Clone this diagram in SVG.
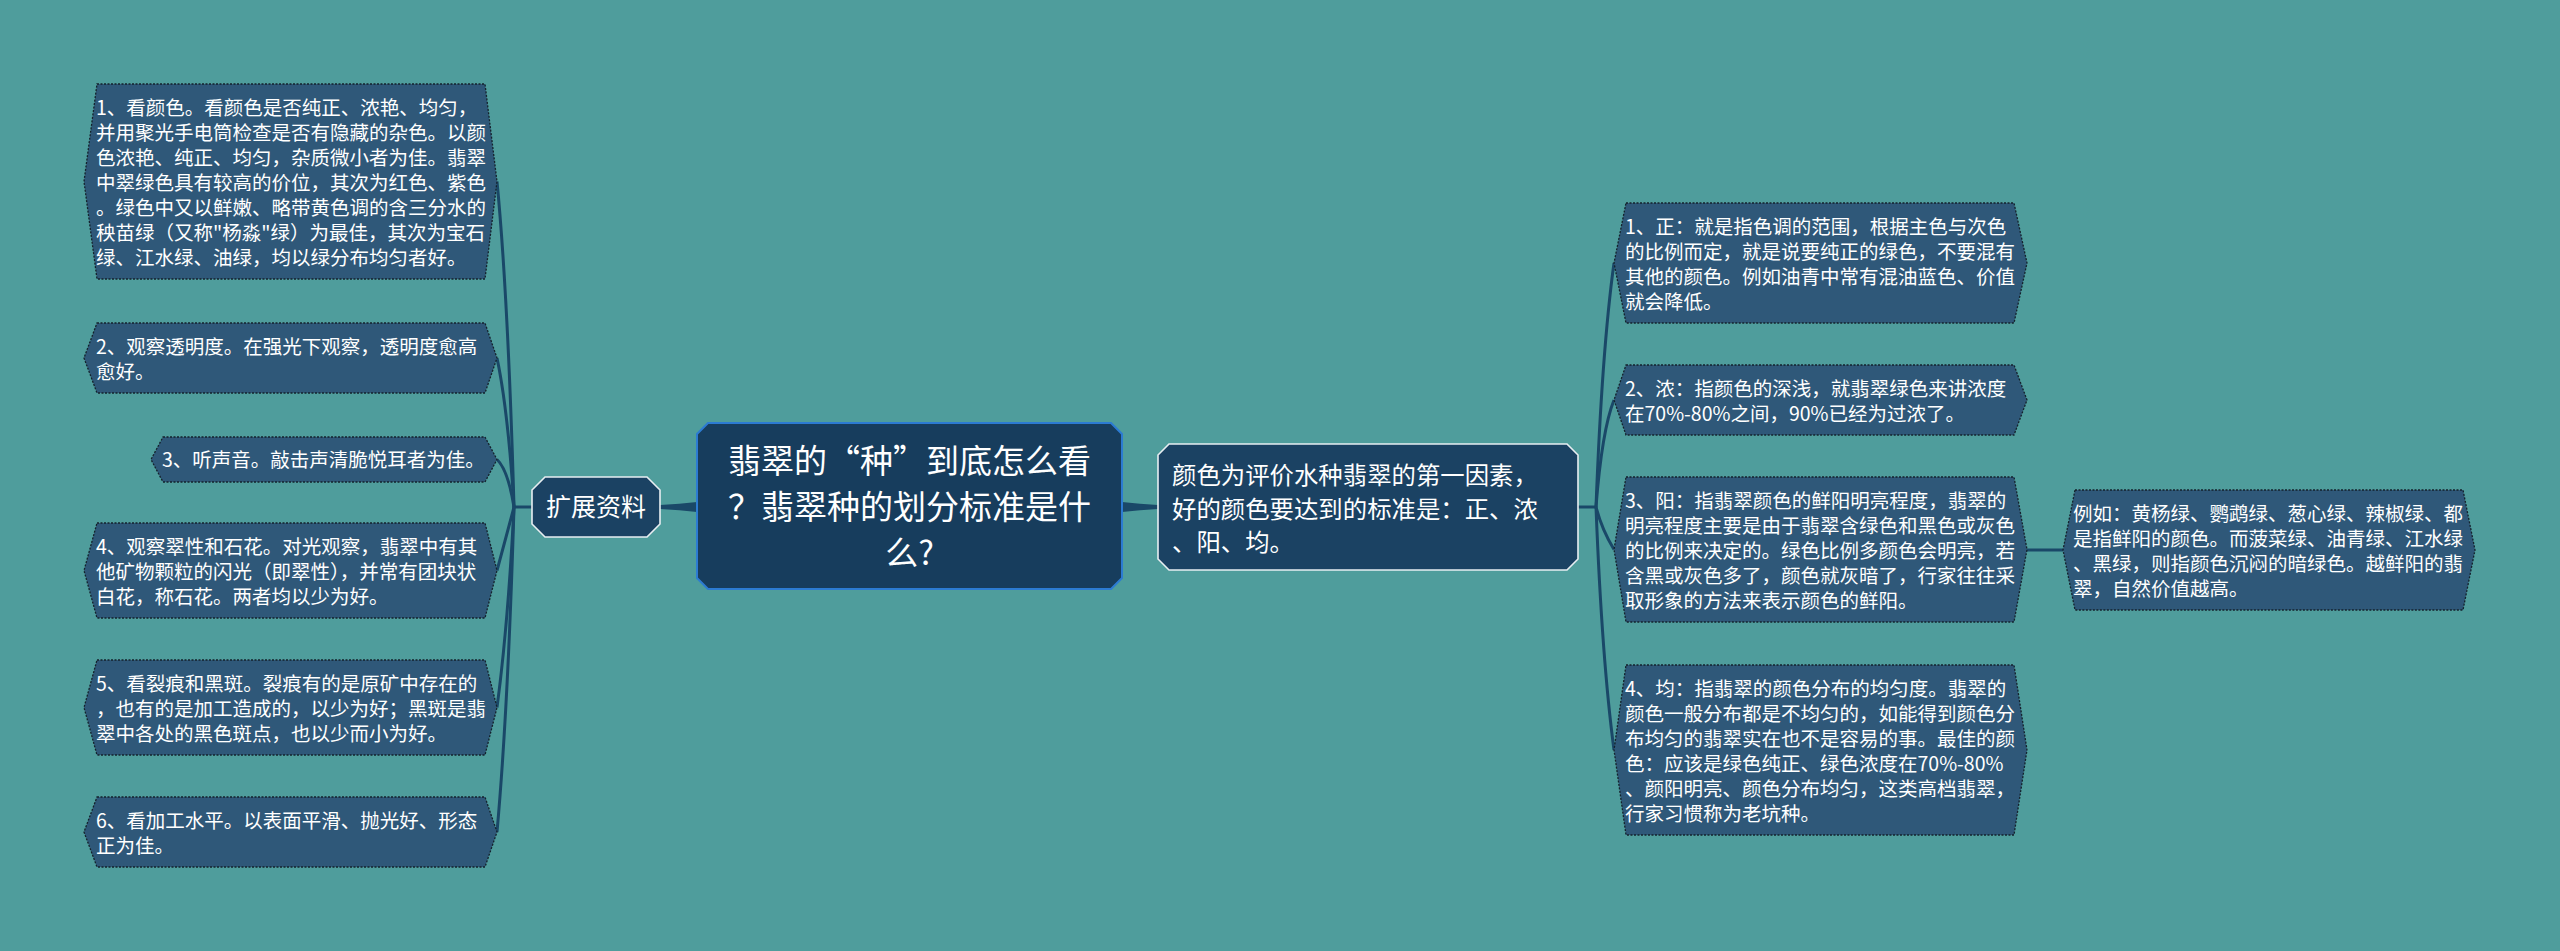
<svg xmlns="http://www.w3.org/2000/svg" width="2560" height="951" viewBox="0 0 2560 951">
<style>
.leaf{fill:#2f5879;stroke:#15222c;stroke-width:1.3;stroke-dasharray:2 1.5}
.lt{font-family:"Noto Sans CJK SC","Noto Sans",sans-serif;font-size:19.5px;fill:#ffffff}
.ct{font-family:"Noto Sans CJK SC","Noto Sans",sans-serif;font-size:33px;fill:#ffffff;text-anchor:middle}
.st{font-family:"Noto Sans CJK SC","Noto Sans",sans-serif;font-size:24.4px;fill:#ffffff}
.sub{fill:#1b4263;stroke:#e8eef2;stroke-width:1.6}
.con{fill:none;stroke:#1a4868;stroke-width:3}
.taper{fill:#1a4868}
</style>
<rect width="2560" height="951" fill="#4f9d9c"/>
<g id="connectors">
<path class="taper" d="M697,502 Q680,504 660,505 L660,509 Q680,510 697,512 Z"/>
<path class="taper" d="M1122,502 Q1140,504 1158,505 L1158,509 Q1140,510 1122,512 Z"/>
<path class="con" stroke-width="2.5" d="M532,507 L514,507"/>
<path class="con" d="M514,507 Q508,295 497,181.5"/>
<path class="con" d="M514,507 Q508,410 497,358"/>
<path class="con" d="M514,507 Q508,470 497,459.5"/>
<path class="con" d="M514,507 Q508,530 497,570.5"/>
<path class="con" d="M514,507 Q508,625 497,707.5"/>
<path class="con" d="M514,507 Q508,710 497,832"/>
<path class="con" stroke-width="2.5" d="M1578,507 L1596,507"/>
<path class="con" d="M1596,507 Q1602,350 1614,263"/>
<path class="con" d="M1596,507 Q1602,430 1614,400"/>
<path class="con" d="M1596,507 Q1602,530 1614,549.5"/>
<path class="con" d="M1596,507 Q1602,660 1614,750"/>
<path class="con" d="M2027,550 L2063,550"/>
</g>
<g id="center">
<path d="M708,423 L1111,423 L1122,434 L1122,578 L1111,589 L708,589 L697,578 L697,434 Z" fill="#173d5d" stroke="#2c7bd2" stroke-width="2"/>
<text class="ct" x="909.5" y="473">翡翠的“种”到底怎么看</text>
<text class="ct" x="909.5" y="519">？翡翠种的划分标准是什</text>
<text class="ct" x="909.5" y="565">么?</text>
</g>
<g id="ext">
<path class="sub" d="M545,477 L647,477 L660,490 L660,524 L647,537 L545,537 L532,524 L532,490 Z"/>
<text x="596" y="516" font-family="Noto Sans CJK SC, sans-serif" font-size="25" fill="#fff" text-anchor="middle">扩展资料</text>
</g>
<g id="color-main">
<path class="sub" d="M1169,444 L1567,444 L1578,455 L1578,559 L1567,570 L1169,570 L1158,559 L1158,455 Z"/>
<text class="st" x="1172" y="484">颜色为评价水种翡翠的第一因素，</text>
<text class="st" x="1172" y="517.5">好的颜色要达到的标准是：正、浓</text>
<text class="st" x="1172" y="551">、阳、均。</text>
</g>
<g id="n1">
<path class="leaf" d="M97,84 L485,84 L497,181.5 L485,279 L97,279 L84,181.5 Z"/>
<text class="lt" x="96" y="115">1、看颜色。看颜色是否纯正、浓艳、均匀，</text>
<text class="lt" x="96" y="140">并用聚光手电筒检查是否有隐藏的杂色。以颜</text>
<text class="lt" x="96" y="165">色浓艳、纯正、均匀，杂质微小者为佳。翡翠</text>
<text class="lt" x="96" y="190">中翠绿色具有较高的价位，其次为红色、紫色</text>
<text class="lt" x="96" y="215">。绿色中又以鲜嫩、略带黄色调的含三分水的</text>
<text class="lt" x="96" y="240">秧苗绿（又称"杨淼"绿）为最佳，其次为宝石</text>
<text class="lt" x="96" y="265">绿、江水绿、油绿，均以绿分布均匀者好。</text>
</g>
<g id="n2">
<path class="leaf" d="M97,323 L485,323 L497,358 L485,393 L97,393 L84,358 Z"/>
<text class="lt" x="96" y="354">2、观察透明度。在强光下观察，透明度愈高</text>
<text class="lt" x="96" y="379">愈好。</text>
</g>
<g id="n3">
<path class="leaf" d="M163,437 L485,437 L497,459.5 L485,482 L163,482 L151,459.5 Z"/>
<text class="lt" x="162" y="467">3、听声音。敲击声清脆悦耳者为佳。</text>
</g>
<g id="n4">
<path class="leaf" d="M97,523 L485,523 L497,570.5 L485,618 L97,618 L84,570.5 Z"/>
<text class="lt" x="96" y="554">4、观察翠性和石花。对光观察，翡翠中有其</text>
<text class="lt" x="96" y="579">他矿物颗粒的闪光（即翠性），并常有团块状</text>
<text class="lt" x="96" y="604">白花，称石花。两者均以少为好。</text>
</g>
<g id="n5">
<path class="leaf" d="M97,660 L485,660 L497,707.5 L485,755 L97,755 L84,707.5 Z"/>
<text class="lt" x="96" y="691">5、看裂痕和黑斑。裂痕有的是原矿中存在的</text>
<text class="lt" x="96" y="716">，也有的是加工造成的，以少为好；黑斑是翡</text>
<text class="lt" x="96" y="741">翠中各处的黑色斑点，也以少而小为好。</text>
</g>
<g id="n6">
<path class="leaf" d="M97,797 L485,797 L497,832 L485,867 L97,867 L84,832 Z"/>
<text class="lt" x="96" y="828">6、看加工水平。以表面平滑、抛光好、形态</text>
<text class="lt" x="96" y="853">正为佳。</text>
</g>
<g id="r1">
<path class="leaf" d="M1626,203 L2014,203 L2027,263 L2014,323 L1626,323 L1614,263 Z"/>
<text class="lt" x="1625" y="234">1、正：就是指色调的范围，根据主色与次色</text>
<text class="lt" x="1625" y="259">的比例而定，就是说要纯正的绿色，不要混有</text>
<text class="lt" x="1625" y="284">其他的颜色。例如油青中常有混油蓝色、价值</text>
<text class="lt" x="1625" y="309">就会降低。</text>
</g>
<g id="r2">
<path class="leaf" d="M1626,365 L2014,365 L2027,400 L2014,435 L1626,435 L1614,400 Z"/>
<text class="lt" x="1625" y="396">2、浓：指颜色的深浅，就翡翠绿色来讲浓度</text>
<text class="lt" x="1625" y="421">在70%-80%之间，90%已经为过浓了。</text>
</g>
<g id="r3">
<path class="leaf" d="M1626,477 L2014,477 L2027,549.5 L2014,622 L1626,622 L1614,549.5 Z"/>
<text class="lt" x="1625" y="508">3、阳：指翡翠颜色的鲜阳明亮程度，翡翠的</text>
<text class="lt" x="1625" y="533">明亮程度主要是由于翡翠含绿色和黑色或灰色</text>
<text class="lt" x="1625" y="558">的比例来决定的。绿色比例多颜色会明亮，若</text>
<text class="lt" x="1625" y="583">含黑或灰色多了，颜色就灰暗了，行家往往采</text>
<text class="lt" x="1625" y="608">取形象的方法来表示颜色的鲜阳。</text>
</g>
<g id="r4">
<path class="leaf" d="M1626,665 L2014,665 L2027,750 L2014,835 L1626,835 L1614,750 Z"/>
<text class="lt" x="1625" y="696">4、均：指翡翠的颜色分布的均匀度。翡翠的</text>
<text class="lt" x="1625" y="721">颜色一般分布都是不均匀的，如能得到颜色分</text>
<text class="lt" x="1625" y="746">布均匀的翡翠实在也不是容易的事。最佳的颜</text>
<text class="lt" x="1625" y="771">色：应该是绿色纯正、绿色浓度在70%-80%</text>
<text class="lt" x="1625" y="796">、颜阳明亮、颜色分布均匀，这类高档翡翠，</text>
<text class="lt" x="1625" y="821">行家习惯称为老坑种。</text>
</g>
<g id="r5">
<path class="leaf" d="M2075,490 L2463,490 L2475,550 L2463,610 L2075,610 L2063,550 Z"/>
<text class="lt" x="2073" y="521">例如：黄杨绿、鹦鹉绿、葱心绿、辣椒绿、都</text>
<text class="lt" x="2073" y="546">是指鲜阳的颜色。而菠菜绿、油青绿、江水绿</text>
<text class="lt" x="2073" y="571">、黑绿，则指颜色沉闷的暗绿色。越鲜阳的翡</text>
<text class="lt" x="2073" y="596">翠，自然价值越高。</text>
</g>
</svg>
